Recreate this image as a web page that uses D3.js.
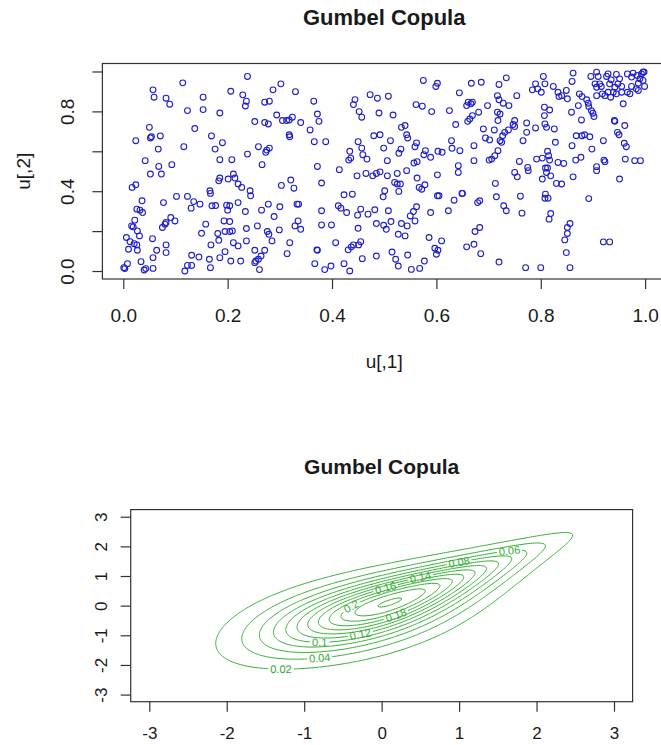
<!DOCTYPE html>
<html>
<head>
<meta charset="utf-8">
<script src="https://cdn.jsdelivr.net/npm/d3@7"></script>
<style>
  html, body { margin: 0; padding: 0; background: #fff; }
  svg { display: block; font-family: "Liberation Sans", Arial, Helvetica, sans-serif; }
</style>
</head>
<body>
<svg id="chart" width="661" height="745"></svg>
<script>
// Sample drawn from the Gumbel copula: each entry is [u[,1], u[,2]]
const u = [
  [0.238,0.975],[0.114,0.943],[0.057,0.908],[0.059,0.871],[0.082,0.866],[0.089,0.836],[0.153,0.871],[0.206,0.901],
  [0.229,0.883],[0.236,0.851],[0.234,0.827],[0.287,0.908],[0.302,0.938],[0.271,0.846],[0.280,0.851],[0.123,0.804],
  [0.153,0.809],[0.185,0.792],[0.252,0.749],[0.271,0.744],[0.278,0.737],[0.294,0.782],[0.305,0.754],[0.050,0.720],
  [0.052,0.667],[0.054,0.673],[0.071,0.677],[0.024,0.653],[0.137,0.714],[0.169,0.677],[0.190,0.643],[0.116,0.623],
  [0.067,0.611],[0.176,0.611],[0.259,0.623],[0.273,0.595],[0.275,0.606],[0.280,0.616],[0.238,0.586],[0.042,0.553],
  [0.068,0.524],[0.093,0.533],[0.185,0.558],[0.208,0.558],[0.266,0.533],
  [0.052,0.486],[0.073,0.486],[0.185,0.466],[0.183,0.452],[0.211,0.486],[0.201,0.461],[0.214,0.466],[0.220,0.436],
  [0.227,0.419],[0.017,0.419],[0.024,0.432],[0.166,0.402],[0.167,0.389],[0.243,0.402],[0.244,0.377],[0.303,0.429],
  [0.102,0.374],[0.123,0.374],[0.135,0.348],[0.147,0.335],[0.130,0.315],[0.077,0.343],[0.036,0.352],[0.032,0.305],
  [0.026,0.310],[0.037,0.293],[0.170,0.327],[0.177,0.328],[0.198,0.330],[0.204,0.327],[0.200,0.305],[0.220,0.343],
  [0.234,0.298],[0.265,0.305],[0.278,0.335],[0.289,0.273],[0.300,0.322],[0.022,0.255],[0.016,0.226],[0.027,0.201],
  [0.031,0.176],[0.019,0.221],[0.082,0.243],[0.091,0.268],[0.099,0.251],[0.075,0.218],[0.080,0.235],[0.158,0.235],
  [0.150,0.189],[0.193,0.251],[0.204,0.248],[0.181,0.188],[0.195,0.198],[0.204,0.198],[0.209,0.201],[0.236,0.213],
  [0.257,0.226],[0.276,0.198],[0.279,0.184],[0.285,0.151],[0.299,0.206],[0.006,0.168],[0.013,0.147],[0.021,0.137],
  [0.010,0.109],[0.026,0.131],[0.027,0.104],[0.056,0.162],[0.064,0.104],[0.082,0.131],[0.082,0.092],[0.168,0.131],
  [0.183,0.154],[0.195,0.097],[0.185,0.067],[0.211,0.142],[0.220,0.126],[0.236,0.151],[0.252,0.104],[0.271,0.104],
  [0.264,0.075],[0.254,0.050],[0.259,0.059],[0.001,0.017],[0.003,0.012],[0.008,0.037],[0.034,0.047],[0.040,0.005],
  [0.043,0.012],[0.057,0.013],[0.057,0.067],[0.118,0.000],[0.123,0.028],[0.131,0.028],[0.131,0.079],[0.145,0.070],
  [0.165,0.059],[0.167,0.017],[0.206,0.050],[0.225,0.050],[0.252,0.042],[0.261,0.007],
  [0.330,0.899],[0.365,0.851],[0.372,0.787],[0.375,0.750],[0.358,0.707],[0.340,0.744],[0.313,0.754],[0.318,0.757],
  [0.324,0.771],[0.318,0.683],[0.319,0.673],[0.366,0.648],[0.388,0.648],[0.372,0.524],[0.414,0.508],[0.444,0.859],
  [0.441,0.834],[0.452,0.799],[0.457,0.771],[0.473,0.884],[0.487,0.866],[0.508,0.876],[0.490,0.792],[0.517,0.782],
  [0.575,0.955],[0.599,0.925],[0.602,0.941],[0.644,0.893],[0.561,0.834],[0.573,0.826],[0.591,0.799],[0.625,0.804],
  [0.637,0.734],[0.533,0.720],[0.540,0.729],[0.543,0.683],[0.545,0.667],[0.562,0.642],[0.559,0.623],[0.579,0.603],
  [0.576,0.583],[0.589,0.570],[0.603,0.600],[0.611,0.595],[0.629,0.653],[0.630,0.615],[0.645,0.603],[0.642,0.528],
  [0.480,0.678],[0.492,0.683],[0.512,0.653],[0.499,0.616],[0.450,0.648],[0.457,0.616],[0.434,0.600],[0.436,0.566],
  [0.432,0.556],[0.459,0.583],[0.467,0.561],[0.528,0.590],[0.532,0.611],[0.506,0.553],[0.557,0.541],[0.563,0.548],
  [0.321,0.456],[0.327,0.415],[0.380,0.441],[0.448,0.477],[0.465,0.489],[0.478,0.477],[0.485,0.489],[0.492,0.497],
  [0.506,0.477],[0.525,0.489],[0.543,0.503],[0.563,0.466],[0.520,0.444],[0.525,0.436],[0.531,0.436],[0.528,0.399],
  [0.501,0.402],[0.498,0.372],[0.567,0.419],[0.572,0.410],[0.578,0.432],[0.602,0.377],[0.605,0.377],[0.602,0.482],
  [0.642,0.494],[0.650,0.389],[0.649,0.389],[0.634,0.355],[0.623,0.302],[0.658,0.121],[0.589,0.293],[0.586,0.168],
  [0.610,0.151],[0.597,0.114],[0.603,0.104],[0.600,0.084],[0.577,0.050],[0.568,0.013],[0.552,0.008],[0.545,0.080],
  [0.527,0.025],[0.522,0.059],[0.515,0.095],[0.485,0.075],[0.458,0.062],[0.455,0.147],[0.451,0.131],[0.441,0.131],
  [0.437,0.121],[0.431,0.106],[0.407,0.142],[0.423,0.037],[0.434,0.000],[0.398,0.025],[0.386,0.007],[0.367,0.037],
  [0.372,0.104],[0.371,0.106],[0.314,0.087],[0.319,0.142],[0.329,0.226],[0.335,0.251],[0.340,0.209],[0.333,0.335],
  [0.336,0.335],[0.380,0.302],[0.380,0.231],[0.399,0.231],[0.450,0.214],[0.428,0.293],[0.412,0.327],[0.417,0.315],
  [0.423,0.382],[0.439,0.385],[0.455,0.310],[0.449,0.280],[0.469,0.285],[0.482,0.307],[0.508,0.302],[0.485,0.238],
  [0.499,0.229],[0.504,0.209],[0.513,0.248],[0.533,0.238],[0.544,0.226],[0.527,0.184],[0.540,0.176],[0.550,0.276],
  [0.556,0.298],[0.562,0.322],[0.559,0.251],
  [0.667,0.941],[0.686,0.946],[0.720,0.935],[0.734,0.968],[0.717,0.879],[0.720,0.858],[0.728,0.841],[0.739,0.829],
  [0.754,0.879],[0.661,0.846],[0.666,0.838],[0.658,0.829],[0.669,0.846],[0.681,0.796],[0.698,0.829],[0.664,0.762],
  [0.660,0.750],[0.669,0.779],[0.717,0.796],[0.722,0.787],[0.718,0.754],[0.750,0.754],[0.747,0.734],[0.773,0.742],
  [0.790,0.938],[0.794,0.913],[0.805,0.975],[0.808,0.938],[0.784,0.908],[0.801,0.896],[0.824,0.925],[0.833,0.896],
  [0.840,0.879],[0.849,0.905],[0.835,0.874],[0.851,0.863],[0.862,0.992],[0.860,0.950],[0.874,0.888],[0.879,0.874],
  [0.872,0.829],[0.888,0.858],[0.891,0.841],[0.896,0.975],[0.907,0.997],[0.910,0.975],[0.904,0.938],[0.913,0.938],
  [0.916,0.925],[0.907,0.921],[0.926,0.975],[0.929,0.988],[0.935,0.958],[0.932,0.938],[0.945,0.985],[0.951,0.963],
  [0.948,0.938],[0.955,0.925],[0.966,0.988],[0.974,0.972],[0.977,0.992],[0.985,0.980],[0.993,0.988],[0.998,0.998],
  [0.996,0.996],[0.990,0.963],[0.996,0.955],[0.987,0.941],[0.999,0.925],[0.983,0.913],[0.974,0.925],[0.966,0.896],
  [0.971,0.888],[0.987,0.905],[0.955,0.896],[0.942,0.921],[0.939,0.896],[0.929,0.896],[0.923,0.879],[0.934,0.871],
  [0.945,0.888],[0.918,0.888],[0.958,0.838],[0.907,0.879],[0.892,0.824],[0.897,0.804],[0.900,0.791],[0.878,0.757],
  [0.859,0.796],[0.902,0.774],[0.941,0.754],[0.942,0.750],[0.961,0.729],[0.947,0.695],[0.950,0.683],[0.960,0.640],
  [0.964,0.623],[0.962,0.561],[0.980,0.553],[0.991,0.553],[0.920,0.653],[0.898,0.611],[0.921,0.556],[0.923,0.548],
  [0.907,0.523],[0.879,0.678],[0.868,0.678],[0.884,0.683],[0.894,0.673],[0.860,0.628],[0.877,0.570],[0.867,0.556],
  [0.828,0.645],[0.813,0.600],[0.815,0.578],[0.803,0.566],[0.792,0.561],[0.817,0.556],[0.833,0.544],[0.844,0.539],
  [0.809,0.516],[0.813,0.516],[0.775,0.519],[0.759,0.549],[0.807,0.821],[0.817,0.807],[0.807,0.779],[0.808,0.737],
  [0.811,0.720],[0.826,0.712],[0.790,0.717],[0.773,0.695],[0.766,0.653],[0.750,0.724],[0.738,0.707],[0.731,0.695],
  [0.727,0.678],[0.722,0.653],[0.725,0.645],[0.711,0.707],[0.690,0.712],[0.694,0.667],[0.702,0.657],[0.672,0.628],
  [0.718,0.603],[0.712,0.578],[0.706,0.561],[0.701,0.556],[0.672,0.553],
  [0.750,0.494],[0.755,0.472],[0.776,0.503],[0.803,0.461],[0.811,0.494],[0.819,0.477],[0.830,0.439],[0.840,0.436],
  [0.862,0.472],[0.907,0.503],[0.951,0.461],[0.713,0.439],[0.679,0.343],[0.683,0.352],[0.715,0.372],[0.729,0.327],
  [0.734,0.302],[0.761,0.375],[0.764,0.290],[0.809,0.385],[0.808,0.365],[0.814,0.365],[0.819,0.288],[0.816,0.260],
  [0.892,0.363],[0.856,0.238],[0.851,0.218],[0.851,0.188],[0.846,0.156],[0.849,0.092],[0.856,0.017],[0.800,0.017],
  [0.771,0.017],[0.720,0.045],[0.685,0.087],[0.672,0.134],[0.683,0.218],[0.674,0.198],[0.920,0.146],[0.932,0.146]
];

// Axis ticks of the scatter panel
const xTicksTop = [0, 0.2, 0.4, 0.6, 0.8, 1.0];
const yTicksTop = [0, 0.2, 0.4, 0.6, 0.8, 1.0];
const yLabelsTop = [0, 0.4, 0.8];           // labels that fit along the short axis

// Gumbel copula with standard normal margins
const theta = 2;
const levels = [0.02, 0.04, 0.06, 0.08, 0.10, 0.12, 0.14, 0.16, 0.18, 0.20, 0.22, 0.24];
// where each contour level carries its label (data coordinates)
const contourLabels = [
  { level: 0.02, x: -1.29, y: -2.13 },
  { level: 0.04, x: -0.81, y: -1.76 },
  { level: 0.10, x: -0.79, y: -1.23 },
  { level: 0.12, x: -0.28, y: -0.92 },
  { level: 0.20, x: -0.36, y: -0.14 },
  { level: 0.18, x:  0.18, y: -0.24 },
  { level: 0.16, x:  0.04, y:  0.63 },
  { level: 0.14, x:  0.51, y:  0.94 },
  { level: 0.08, x:  0.99, y:  1.44 },
  { level: 0.06, x:  1.65, y:  1.78 }
];
const ticksBottom = [-3, -2, -1, 0, 1, 2, 3];

const svg = d3.select("#chart");
const ink = "#1a1a1a";
const frame = "#333";
const intLabel = d => (d < 0 ? "-" : "") + Math.abs(d);   // plain hyphen, as R prints it

/* ---------- upper panel: scatter of the sample ---------- */
const pTop = { left: 102.4, right: 666, top: 63.5, bottom: 279 };
const xs = d3.scaleLinear().domain([-0.04, 1.04]).range([pTop.left, pTop.right]);
const ys = d3.scaleLinear().domain([-0.04, 1.04]).range([pTop.bottom, pTop.top]);

svg.append("text")
  .attr("x", (pTop.left + pTop.right) / 2).attr("y", 25)
  .attr("text-anchor", "middle").attr("font-weight", "bold")
  .attr("font-size", 22).attr("fill", ink)
  .text("Gumbel Copula");

svg.append("g").selectAll("circle").data(u).join("circle")
  .attr("cx", d => xs(d[0])).attr("cy", d => ys(d[1]))
  .attr("r", 2.9).attr("fill", "none")
  .attr("stroke", "#1e1ecc").attr("stroke-width", 1.1);

svg.append("rect")
  .attr("x", pTop.left).attr("y", pTop.top)
  .attr("width", pTop.right - pTop.left).attr("height", pTop.bottom - pTop.top)
  .attr("fill", "none").attr("stroke", frame).attr("stroke-width", 1.2);

const fmt1 = d3.format(".1f");
const gxTop = svg.append("g").attr("transform", `translate(0,${pTop.bottom})`)
  .call(d3.axisBottom(xs).tickValues(xTicksTop).tickSize(10).tickSizeOuter(0).tickFormat(fmt1));
gxTop.select(".domain").remove();
gxTop.selectAll("line").attr("stroke", frame).attr("stroke-width", 1.2);
gxTop.selectAll("text").attr("y", 43).attr("dy", 0)
  .attr("font-size", 19).attr("fill", ink);

const gyTop = svg.append("g").attr("transform", `translate(${pTop.left},0)`)
  .call(d3.axisLeft(ys).tickValues(yTicksTop).tickSize(10).tickSizeOuter(0)
    .tickFormat(d => yLabelsTop.includes(d) ? fmt1(d) : ""));
gyTop.select(".domain").remove();
gyTop.selectAll("line").attr("stroke", frame).attr("stroke-width", 1.2);
gyTop.selectAll("text").attr("x", 0).attr("dy", 0).attr("text-anchor", "middle")
  .attr("transform", "translate(-28,0) rotate(-90)")
  .attr("font-size", 19).attr("fill", ink);

svg.append("text")
  .attr("x", (pTop.left + pTop.right) / 2).attr("y", 368)
  .attr("text-anchor", "middle").attr("font-size", 19).attr("fill", ink)
  .text("u[,1]");
svg.append("text")
  .attr("transform", `translate(30,${(pTop.top + pTop.bottom) / 2}) rotate(-90)`)
  .attr("text-anchor", "middle").attr("font-size", 19).attr("fill", ink)
  .text("u[,2]");

/* ---------- lower panel: density contours ---------- */
const pBot = { left: 130.7, right: 632.6, top: 509.6, bottom: 701.7 };
const xb = d3.scaleLinear().domain([-3.24, 3.24]).range([pBot.left, pBot.right]);
const yb = d3.scaleLinear().domain([-3.24, 3.24]).range([pBot.bottom, pBot.top]);

svg.append("text")
  .attr("x", (pBot.left + pBot.right) / 2).attr("y", 474)
  .attr("text-anchor", "middle").attr("font-weight", "bold")
  .attr("font-size", 21).attr("fill", ink)
  .text("Gumbel Copula");

// standard normal pieces
const SQ2PI = Math.sqrt(2 * Math.PI);
const dnorm = z => Math.exp(-0.5 * z * z) / SQ2PI;
function upperTail(z) {             // P(Z > z) for z >= 0
  const t = 1 / (1 + 0.2316419 * z);
  const poly = t * (0.319381530 + t * (-0.356563782 + t * (1.781477937 + t * (-1.821255978 + t * 1.330274429))));
  return dnorm(z) * poly;
}
function negLogPnorm(z) {           // -log(Phi(z))
  return z >= 0 ? -Math.log1p(-upperTail(z)) : -Math.log(upperTail(-z));
}
// joint density: Gumbel copula density times the normal margins
function density(s, t) {
  const a = negLogPnorm(s), b = negLogPnorm(t);
  const A = Math.pow(a, theta) + Math.pow(b, theta);
  const w = Math.pow(A, 1 / theta);
  const c = Math.exp(-w) * Math.pow(a * b, theta - 1) * Math.exp(a + b)
          * Math.pow(A, 1 / theta - 2) * (w + theta - 1);
  return c * dnorm(s) * dnorm(t);
}

const n = 241, lo = -3, hi = 3, step = (hi - lo) / (n - 1);
const grid = new Float64Array(n * n);
for (let j = 0; j < n; j++)
  for (let i = 0; i < n; i++)
    grid[j * n + i] = density(lo + i * step, lo + j * step);

const contours = d3.contours().size([n, n]).thresholds(levels)(grid);
const gx = c => xb(lo + (c - 0.5) * step);
const gy = c => yb(lo + (c - 0.5) * step);
const path = d3.geoPath(d3.geoTransform({
  point(x, y) { this.stream.point(gx(x), gy(y)); }
}));

const green = "#30ab30";
const defs = svg.append("defs");
const labelLayer = [];

contours.forEach((ct, k) => {
  const spots = contourLabels.filter(l => Math.abs(l.level - ct.value) < 1e-9);
  const maskId = "lvl" + k;
  const mask = defs.append("mask").attr("id", maskId).attr("maskUnits", "userSpaceOnUse")
    .attr("x", 0).attr("y", 0).attr("width", 661).attr("height", 745);
  mask.append("rect").attr("width", 661).attr("height", 745).attr("fill", "#fff");

  // rings of this level in pixel space
  const rings = [];
  ct.coordinates.forEach(poly => poly.forEach(r => rings.push(r.map(p => [gx(p[0]), gy(p[1])]))));

  spots.forEach(s => {
    const px = xb(s.x), py = yb(s.y);
    let best = null, bd = Infinity;
    rings.forEach(r => r.forEach((p, i) => {
      const d = (p[0] - px) ** 2 + (p[1] - py) ** 2;
      if (d < bd) { bd = d; best = { r, i }; }
    }));
    if (!best) return;
    const r = best.r, m = r.length;
    const p0 = r[(best.i - 3 + m) % m], p1 = r[(best.i + 3) % m], pc = r[best.i];
    let ang = Math.atan2(p1[1] - p0[1], p1[0] - p0[0]) * 180 / Math.PI;
    if (ang > 90) ang -= 180;
    if (ang < -90) ang += 180;
    labelLayer.push({ x: pc[0], y: pc[1], ang, text: String(s.level), mask });
  });

  svg.append("path")
    .attr("d", path(ct))
    .attr("fill", "none").attr("stroke", green).attr("stroke-width", 1)
    .attr("mask", spots.length ? `url(#${maskId})` : null);
});

labelLayer.forEach(l => {
  const t = svg.append("text")
    .attr("transform", `translate(${l.x},${l.y}) rotate(${l.ang})`)
    .attr("text-anchor", "middle").attr("dy", "0.35em")
    .attr("font-size", 11).attr("fill", green)
    .text(l.text);
  const w = t.node().getComputedTextLength() + 4;
  l.mask.append("rect")
    .attr("x", -w / 2).attr("y", -5).attr("width", w).attr("height", 10)
    .attr("transform", `translate(${l.x},${l.y}) rotate(${l.ang})`)
    .attr("fill", "#000");
});

svg.append("rect")
  .attr("x", pBot.left).attr("y", pBot.top)
  .attr("width", pBot.right - pBot.left).attr("height", pBot.bottom - pBot.top)
  .attr("fill", "none").attr("stroke", frame).attr("stroke-width", 1.2);

const gxBot = svg.append("g").attr("transform", `translate(0,${pBot.bottom})`)
  .call(d3.axisBottom(xb).tickValues(ticksBottom).tickSize(10).tickSizeOuter(0).tickFormat(intLabel));
gxBot.select(".domain").remove();
gxBot.selectAll("line").attr("stroke", frame).attr("stroke-width", 1.2);
gxBot.selectAll("text").attr("y", 37).attr("dy", 0)
  .attr("font-size", 17).attr("fill", ink);

const gyBot = svg.append("g").attr("transform", `translate(${pBot.left},0)`)
  .call(d3.axisLeft(yb).tickValues(ticksBottom).tickSize(10).tickSizeOuter(0).tickFormat(intLabel));
gyBot.select(".domain").remove();
gyBot.selectAll("line").attr("stroke", frame).attr("stroke-width", 1.2);
gyBot.selectAll("text").attr("x", 0).attr("dy", 0).attr("text-anchor", "middle")
  .attr("transform", "translate(-24,0) rotate(-90)")
  .attr("font-size", 17).attr("fill", ink);
</script>
</body>
</html>
